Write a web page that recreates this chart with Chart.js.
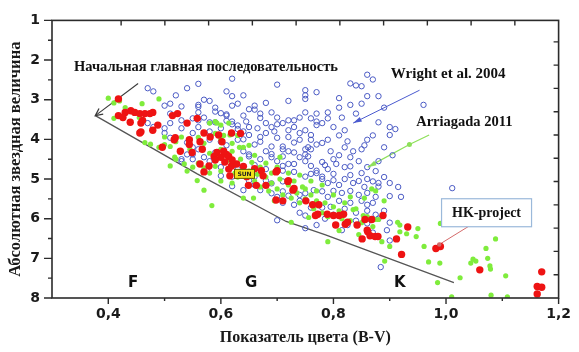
<!DOCTYPE html>
<html lang="ru">
<head>
<meta charset="utf-8">
<title>Диаграмма цвет – светимость</title>
<script src="https://cdn.jsdelivr.net/npm/chart.js@4.4.1/dist/chart.umd.min.js"></script>
<style>
  html, body { margin: 0; padding: 0; background: #fff; }
  #wrap { width: 579px; height: 352px; }
</style>
</head>
<body>
<div id="wrap"><canvas id="hrChart" width="579" height="352"></canvas></div>
<script>
// [B-V, Mv] pairs
const wrightStars = [
  [0.47,2.71],[0.48,2.79],[0.54,2.71],[0.52,2.89],[0.56,2.60],[0.61,2.79],[0.62,2.47],[0.62,2.91],[0.64,2.89],[0.58,3.03],
  [0.56,3.13],[0.59,3.20],[0.50,3.15],[0.51,3.10],[0.66,3.15],[0.65,3.24],[0.63,3.10],[0.70,2.62],[0.75,2.76],[0.77,2.81],
  [0.75,2.98],[0.81,2.96],[0.83,2.59],[0.84,2.64],[0.85,2.66],[0.86,2.37],[0.87,2.49],[0.86,2.91],[0.88,2.91],[0.81,3.20],
  [0.83,3.13],[0.85,3.10],[0.96,3.13],[0.89,3.20],[0.79,3.32],[0.79,3.47],[0.77,3.35],[0.75,3.32],[0.74,3.45],[0.72,3.52],
  [0.70,3.45],[0.69,3.32],[0.67,3.35],[0.64,3.40],[0.77,3.64],[0.75,3.77],[0.74,3.84],[0.76,3.89],[0.80,3.69],[0.82,3.77],
  [0.86,4.01],[0.88,3.57],[0.90,3.69],[0.91,3.74],[0.90,3.89],[0.78,4.09],[0.82,4.70],[0.83,4.68],[0.75,2.89],[0.72,3.03],
  [0.68,3.08],[0.53,3.17],[0.51,3.35],[0.56,3.18],[0.57,3.00],[0.59,3.30],[0.56,3.32],[0.60,3.34],[0.62,3.15],[0.61,3.40],
  [0.57,3.45],[0.55,3.47],[0.53,3.52],[0.47,3.59],[0.48,3.69],[0.50,3.72],[0.51,3.59],[0.50,3.84],[0.51,3.96],[0.53,3.72],
  [0.55,3.84],[0.56,3.69],[0.59,3.57],[0.60,3.72],[0.58,4.01],[0.54,4.08],[0.55,4.20],[0.56,4.25],[0.54,4.38],[0.55,4.50],
  [0.53,4.50],[0.60,4.06],[0.61,4.15],[0.62,3.55],[0.62,3.85],[0.63,3.65],[0.64,4.00],[0.61,3.37],[0.56,3.52],[0.58,3.57],
  [0.61,3.53],[0.62,3.62],[0.63,3.74],[0.65,3.69],[0.68,3.59],[0.69,3.69],[0.70,3.62],[0.71,3.59],[0.72,3.77],[0.73,3.69],
  [0.73,3.52],[0.76,3.47],[0.77,3.55],[0.78,3.59],[0.72,3.94],[0.70,3.96],[0.68,3.84],[0.67,3.94],[0.65,3.89],[0.64,3.80],
  [0.63,4.01],[0.66,4.13],[0.67,4.06],[0.69,4.18],[0.71,4.18],[0.73,4.08],[0.74,4.01],[0.76,4.01],[0.77,4.13],[0.79,4.01],
  [0.75,4.25],[0.73,4.33],[0.71,4.43],[0.69,4.45],[0.67,4.50],[0.65,4.43],[0.64,4.30],[0.75,4.55],[0.76,4.67],[0.73,4.62],
  [0.78,4.57],[0.71,4.67],[0.66,3.25],[0.67,3.46],[0.645,3.55],[0.53,4.55],[0.55,4.38],[0.57,4.45],[0.58,4.55],[0.59,4.33],
  [0.65,4.38],[0.68,4.30],[0.69,4.37],[0.71,4.25],[0.72,4.30],[0.74,4.45],[0.75,4.38],[0.76,4.25],[0.72,4.62],[0.71,4.79],
  [0.73,4.82],[0.75,4.94],[0.76,4.87],[0.77,4.79],[0.78,4.94],[0.71,5.06],[0.69,5.11],[0.68,5.04],[0.66,4.94],[0.65,5.04],
  [0.62,4.94],[0.60,4.92],[0.575,4.79],[0.62,5.18],[0.64,5.28],[0.67,5.28],[0.69,5.36],[0.71,5.31],[0.73,5.28],[0.74,5.40],
  [0.75,5.36],[0.765,5.28],[0.78,5.31],[0.71,5.60],[0.73,5.65],[0.74,5.55],[0.76,5.72],[0.78,5.72],[0.70,6.04],[0.74,5.85],
  [0.75,5.92],[0.75,6.24],[0.77,6.16],[0.63,4.75],[0.60,4.70],[0.66,4.65],[0.80,4.87],[0.90,5.43],[0.89,5.80],[0.895,6.29],
  [0.87,5.06],[0.88,5.19],[0.86,5.65],[0.84,5.85],[0.825,6.16],[0.815,6.29],[0.78,5.00],[0.79,5.10],[0.80,5.03],[0.81,5.15],
  [0.82,5.00],[0.835,5.10],[0.845,5.05],[0.855,5.20],[0.80,5.30],[0.815,5.35],[0.83,5.30],[0.845,5.40],[0.86,5.35],[0.875,5.45],
  [0.79,5.45],[0.81,5.55],[0.83,5.60],[0.85,5.55],[0.87,5.60],[0.795,5.70],[0.82,5.75],[0.86,5.80],[0.875,5.90],[0.84,6.05],
  [0.86,6.12],[0.88,6.00],[0.90,6.10],[0.80,5.90],[0.785,6.00],[0.87,6.35],[0.90,6.55],[0.884,7.22],[1.011,5.23],[0.77,4.85],
  [0.785,4.65],[0.80,4.50],[0.81,4.40],[0.795,4.30],[0.83,4.45],[0.845,4.55],[0.86,4.70],[0.875,4.80],[0.89,4.95],[0.90,5.10],
  [0.915,5.20],[0.88,5.10],[0.92,5.45],[0.835,4.30],[0.85,4.25],[0.82,4.20],[0.87,3.90],[0.855,4.15],[0.89,4.20],[0.88,4.55],
  [0.905,4.40],[0.755,4.20],[0.755,4.43],[0.815,3.45],[0.84,3.35],[0.825,4.05],[0.81,3.90],[0.695,3.80],[0.665,3.72],[0.58,3.80],
  [0.68,4.75],[0.70,4.55],[0.72,5.42],[0.79,4.75],[0.805,4.62],[0.83,4.90],[0.85,4.85],[0.86,5.00],[0.70,5.45],[0.66,5.15]
];

const arriagadaStars = [
  [0.40,2.96],[0.41,3.08],[0.42,3.03],[0.41,3.47],[0.46,3.10],[0.49,2.98],[0.465,4.08],[0.475,4.12],[0.49,4.20],[0.51,4.18],
  [0.52,4.06],[0.53,3.94],[0.50,3.94],[0.518,4.45],[0.51,4.67],[0.58,3.59],[0.59,3.55],[0.60,3.64],[0.614,3.59],[0.605,3.90],
  [0.593,3.59],[0.616,3.89],[0.633,4.20],[0.50,4.13],[0.52,4.50],[0.535,4.62],[0.55,4.70],[0.56,4.60],[0.57,4.72],[0.58,4.85],
  [0.59,4.68],[0.60,4.80],[0.61,4.55],[0.62,4.62],[0.625,4.85],[0.63,4.95],[0.635,4.50],[0.64,4.68],[0.65,4.80],[0.655,4.58],
  [0.66,5.05],[0.665,4.88],[0.67,5.20],[0.68,4.95],[0.685,5.30],[0.69,5.10],[0.70,5.25],[0.705,5.00],[0.71,5.40],[0.72,5.15],
  [0.725,5.48],[0.73,5.05],[0.735,5.35],[0.74,5.60],[0.745,5.20],[0.75,5.50],[0.76,5.40],[0.765,5.75],[0.77,5.55],[0.78,5.85],
  [0.785,5.60],[0.79,5.95],[0.80,5.70],[0.81,5.80],[0.815,6.00],[0.82,5.60],[0.83,6.05],[0.84,5.75],[0.85,6.10],[0.855,5.48],
  [0.86,5.95],[0.87,6.20],[0.875,5.30],[0.88,6.02],[0.89,5.55],[0.58,4.35],[0.60,4.25],[0.62,4.30],[0.64,4.20],[0.66,4.40],
  [0.68,4.60],[0.70,4.70],[0.72,4.85],[0.74,4.90],[0.76,5.05],[0.78,5.15],[0.80,5.40],[0.83,5.45],[0.57,5.28],[0.584,5.67],
  [0.64,5.48],[0.658,5.48],[0.725,6.09],[0.62,5.10],[0.60,5.05],[0.558,5.04],[0.54,4.80],[0.56,3.95],[0.57,4.10],[0.59,3.85],
  [0.60,4.00],[0.62,4.10],[0.63,3.90],[0.65,4.15],[0.756,5.97],[0.79,6.58],[0.874,6.02],[0.914,6.09],[0.918,6.33],[0.93,6.38],
  [0.947,6.45],[0.961,6.70],[0.886,6.58],[0.99,6.12],[0.969,7.09],[0.989,7.12],[0.985,7.61],[1.025,7.49],[1.048,7.02],[1.053,7.07],
  [1.044,7.12],[1.074,7.00],[1.078,7.19],[1.079,7.27],[1.071,6.75],[1.088,6.51],[1.106,7.44],[1.01,7.97],[1.08,7.93],[1.109,7.97],
  [0.891,7.07],[0.835,5.77],[0.868,5.25],[0.853,5.92],[0.81,6.30],[0.845,6.40],[0.90,6.70],[0.918,6.16],[0.95,6.25],[0.705,4.45],
  [0.69,4.85],[0.67,4.70],[0.75,5.25],[0.77,5.30],[0.545,4.25],[0.455,3.45],[0.43,3.20],[0.615,4.40],[0.645,4.95],[0.695,5.55]
];

const hkStars = [
  [0.418,2.98],[0.418,3.40],[0.43,3.32],[0.44,3.28],[0.447,3.32],[0.456,3.35],[0.465,3.35],[0.474,3.35],[0.479,3.32],[0.426,3.45],
  [0.439,3.57],[0.461,3.52],[0.458,3.59],[0.458,3.81],[0.479,3.77],[0.488,3.64],[0.514,3.40],[0.523,3.35],[0.54,3.59],[0.558,3.47],
  [0.519,3.96],[0.496,4.20],[0.544,4.01],[0.563,4.06],[0.528,4.30],[0.549,4.33],[0.57,3.84],[0.581,3.94],[0.596,3.89],[0.602,4.06],
  [0.588,4.43],[0.567,4.25],[0.614,4.43],[0.607,4.57],[0.579,4.67],[0.619,4.67],[0.619,3.84],[0.456,3.84],[0.517,4.01],[0.544,4.13],
  [0.593,4.33],[0.60,4.45],[0.61,4.38],[0.616,4.92],[0.646,4.94],[0.672,4.79],[0.70,4.79],[0.72,5.04],[0.57,4.82],[0.563,4.62],
  [0.59,4.52],[0.614,4.75],[0.628,4.62],[0.64,4.68],[0.66,4.74],[0.675,4.92],[0.649,5.16],[0.663,5.16],[0.68,5.16],[0.698,4.82],
  [0.719,5.06],[0.728,5.28],[0.698,5.53],[0.71,5.55],[0.751,5.55],[0.763,5.65],[0.772,5.89],[0.73,5.24],[0.768,5.92],[0.80,5.92],
  [0.81,5.92],[0.818,5.89],[0.821,6.14],[0.804,6.16],[0.851,6.51],[0.861,6.33],[0.865,6.43],[0.874,6.45],[0.879,6.45],[0.868,6.02],
  [0.856,6.02],[0.888,5.92],[0.932,6.21],[0.921,6.90],[0.982,6.75],[0.99,6.70],[1.06,7.29],[1.17,7.34],[1.162,7.71],[1.17,7.73],
  [1.162,7.90],[0.774,5.65],[0.789,5.89],[0.825,6.09],[0.842,6.16],[0.86,6.29],[0.912,6.51],[0.605,4.30],[0.62,4.52],[0.635,3.85]
];

// lower edge of the main sequence and the pointer lines
const mainSequence = [[0.377,3.40],[0.558,4.87],[0.716,6.07],[0.786,6.41],[1.014,7.61]];
const mainSeqPointer = [[0.453,2.59],[0.377,3.40]];
const wrightPointer = [[0.953,2.76],[0.835,3.59]];
const arriagadaPointer = [[0.97,3.89],[0.935,4.13],[0.861,4.70]];
const hkPointer = [[1.044,6.16],[0.988,6.65]];

const xTickLabels = ['0,4', '0,6', '0,8', '1,0', '1,2'];
const yTickLabels = ['1', '2', '3', '4', '5', '6', '7', '8'];
const spectralClasses = [['F', 0.444], ['G', 0.654], ['K', 0.918]];
const sunPoint = [0.642, 4.87];

const toXY = list => list.map(([x, y]) => ({ x, y }));

function pointerSet(list, color, head, width) {
  return {
    type: 'line', data: toXY(list), borderColor: color, borderWidth: width,
    pointRadius: list.map((p, i) => (i > 0 && i < list.length - 1) ? 2.5 : 0),
    pointBackgroundColor: color, pointBorderWidth: 0,
    showLine: true, fill: false, tension: 0, order: 5, arrowHead: head
  };
}

// frame, tick marks, arrow heads and text labels
const decorations = {
  id: 'decorations',
  afterDatasetsDraw(chart) {
    const ctx = chart.ctx;
    const { x, y, x2, y2 } = chart.scales;
    const area = chart.chartArea;
    ctx.save();

    // arrow heads
    chart.data.datasets.forEach((ds, i) => {
      if (!ds.arrowHead) return;
      const pts = chart.getDatasetMeta(i).data;
      const a = pts[pts.length - 2], b = pts[pts.length - 1];
      const ang = Math.atan2(b.y - a.y, b.x - a.x);
      ctx.strokeStyle = ds.borderColor;
      ctx.fillStyle = ds.borderColor;
      if (ds.arrowHead === 'open') {
        ctx.lineWidth = 1.3;
        ctx.beginPath();
        ctx.moveTo(b.x - 8 * Math.cos(ang - 0.45), b.y - 8 * Math.sin(ang - 0.45));
        ctx.lineTo(b.x, b.y);
        ctx.lineTo(b.x - 8 * Math.cos(ang + 0.45), b.y - 8 * Math.sin(ang + 0.45));
        ctx.stroke();
      } else if (ds.arrowHead === 'dot') {
        ctx.beginPath();
        ctx.arc(b.x, b.y, 2.2, 0, Math.PI * 2);
        ctx.fill();
      } else {
        ctx.beginPath();
        ctx.moveTo(b.x, b.y);
        ctx.lineTo(b.x - 9 * Math.cos(ang - 0.28), b.y - 9 * Math.sin(ang - 0.28));
        ctx.lineTo(b.x - 9 * Math.cos(ang + 0.28), b.y - 9 * Math.sin(ang + 0.28));
        ctx.closePath();
        ctx.fill();
      }
    });

    // frame
    ctx.strokeStyle = '#2b2b2b';
    ctx.lineWidth = 1.6;
    ctx.strokeRect(area.left, area.top, area.right - area.left, area.bottom - area.top);

    // tick marks: left and bottom outward, top and right inward
    ctx.lineWidth = 1.4;
    ctx.beginPath();
    y.ticks.forEach(t => {
      const py = y.getPixelForValue(t.value);
      const len = Number.isInteger(t.value) ? 8 : 4;
      ctx.moveTo(area.left, py); ctx.lineTo(area.left - len, py);
    });
    x.ticks.forEach(t => {
      const px = x.getPixelForValue(t.value);
      const tenth = Math.round(t.value * 10);
      if (tenth === 3) return;
      const len = tenth % 2 === 0 ? 6 : 3;
      ctx.moveTo(px, area.bottom); ctx.lineTo(px, area.bottom + len);
    });
    x2.ticks.forEach(t => {
      if (!Number.isInteger(t.value) || t.value >= 11) return;
      const px = x2.getPixelForValue(t.value);
      ctx.moveTo(px, area.top); ctx.lineTo(px, area.top + 5);
    });
    y2.ticks.forEach(t => {
      if (!Number.isInteger(t.value) || t.value >= 11) return;
      const py = y2.getPixelForValue(t.value);
      ctx.moveTo(area.right, py); ctx.lineTo(area.right - 5, py);
    });
    ctx.stroke();

    // text labels
    ctx.fillStyle = '#111';
    ctx.textBaseline = 'middle';
    ctx.textAlign = 'left';
    ctx.font = 'bold 14.5px "Liberation Serif"';
    ctx.fillText('Начальная главная последовательность', x.getPixelForValue(0.339), y.getPixelForValue(2.17));
    ctx.font = 'bold 15px "Liberation Serif"';
    ctx.fillText('Wright et al. 2004', x.getPixelForValue(0.902), y.getPixelForValue(2.35));
    ctx.font = 'bold 14.5px "Liberation Serif"';
    ctx.fillText('Arriagada 2011', x.getPixelForValue(0.947), y.getPixelForValue(3.57));

    // HK-project box
    const hx = x.getPixelForValue(1.072), hy = y.getPixelForValue(5.85);
    ctx.fillStyle = '#fff';
    ctx.strokeStyle = '#9bb9da';
    ctx.lineWidth = 1.2;
    ctx.fillRect(hx - 45, hy - 14, 90, 28);
    ctx.strokeRect(hx - 45, hy - 14, 90, 28);
    ctx.fillStyle = '#111';
    ctx.textAlign = 'center';
    ctx.font = 'bold 14px "Liberation Serif"';
    ctx.fillText('HK-project', hx, hy + 1);

    // spectral classes
    ctx.font = 'bold 15px "DejaVu Sans"';
    spectralClasses.forEach(([name, bv]) => {
      ctx.fillText(name, x.getPixelForValue(bv), y.getPixelForValue(7.63));
    });

    // the Sun
    const sx = x.getPixelForValue(sunPoint[0]), sy = y.getPixelForValue(sunPoint[1]);
    ctx.fillStyle = '#f4e21a';
    ctx.strokeStyle = '#6a5a00';
    ctx.lineWidth = 1;
    ctx.fillRect(sx - 10, sy - 4.5, 20, 9);
    ctx.strokeRect(sx - 10, sy - 4.5, 20, 9);
    ctx.fillStyle = '#222';
    ctx.font = 'bold 6px "DejaVu Sans"';
    ctx.fillText('SUN', sx, sy + 0.5);

    ctx.restore();
  }
};

Chart.defaults.color = '#1a1a1a';
Chart.defaults.font.family = '"DejaVu Sans"';

new Chart(document.getElementById('hrChart'), {
  type: 'scatter',
  data: {
    datasets: [
      { label: 'HK-project', data: toXY(hkStars), pointRadius: 3.7, pointBackgroundColor: '#ee1313',
        pointBorderWidth: 0, order: 0 },
      { label: 'Arriagada 2011', data: toXY(arriagadaStars), pointRadius: 2.6, pointBackgroundColor: '#7fec3c',
        pointBorderWidth: 0, order: 1 },
      { label: 'Wright et al. 2004', data: toXY(wrightStars), pointRadius: 2.7, pointBackgroundColor: 'rgba(255,255,255,0)',
        pointBorderColor: '#4a5ac4', pointBorderWidth: 1, order: 2 },
      { type: 'line', data: toXY(mainSequence), borderColor: '#555', borderWidth: 1.3, pointRadius: 0,
        showLine: true, fill: false, tension: 0, order: 6 },
      pointerSet(mainSeqPointer, '#3a3a3a', 'open', 1.1),
      pointerSet(wrightPointer, '#4a5acf', 'filled', 1),
      pointerSet(arriagadaPointer, '#8ee05a', 'filled', 1.2),
      pointerSet(hkPointer, '#d46a6a', 'dot', 1)
    ]
  },
  options: {
    responsive: false,
    animation: false,
    layout: { padding: { top: 12, right: 12, left: 0, bottom: 0 } },
    plugins: { legend: { display: false }, tooltip: { enabled: false } },
    scales: {
      x: {
        type: 'linear', position: 'bottom', min: 0.3, max: 1.2,
        grid: { display: false, drawTicks: false }, border: { display: false },
        ticks: {
          stepSize: 0.1, padding: 8, font: { size: 14, weight: 'bold' },
          callback: v => {
            const t = Math.round(v * 10);
            return (t % 2 === 0 && t >= 4) ? xTickLabels[(t - 4) / 2] : '';
          }
        },
        title: { display: true, text: 'Показатель цвета (B-V)', font: { family: '"Liberation Serif"', size: 16, weight: 'bold' },
          padding: { top: 4, bottom: 5 } },
        afterFit: s => { s.height = 54; }
      },
      y: {
        type: 'linear', position: 'left', min: 1, max: 8, reverse: true,
        grid: { display: false, drawTicks: false }, border: { display: false },
        ticks: {
          stepSize: 0.5, padding: 12, font: { size: 14, weight: 'bold' },
          callback: v => Number.isInteger(v) ? yTickLabels[v - 1] : ''
        },
        title: { display: true, text: 'Абсолютная звездная величина', font: { family: '"Liberation Serif"', size: 16.5, weight: 'bold' },
          padding: { top: 6, bottom: 2 } },
        afterFit: s => { s.width = 52; }
      },
      x2: {
        type: 'linear', position: 'top', min: -0.58, max: 11,
        grid: { display: false, drawTicks: false }, border: { display: false },
        ticks: { stepSize: 1, display: false },
        afterFit: s => { s.height = 0; }
      },
      y2: {
        type: 'linear', position: 'right', min: -0.92, max: 11, reverse: true,
        grid: { display: false, drawTicks: false }, border: { display: false },
        ticks: { stepSize: 1, display: false },
        afterFit: s => { s.width = 0; }
      }
    }
  },
  plugins: [decorations]
});
</script>
</body>
</html>
